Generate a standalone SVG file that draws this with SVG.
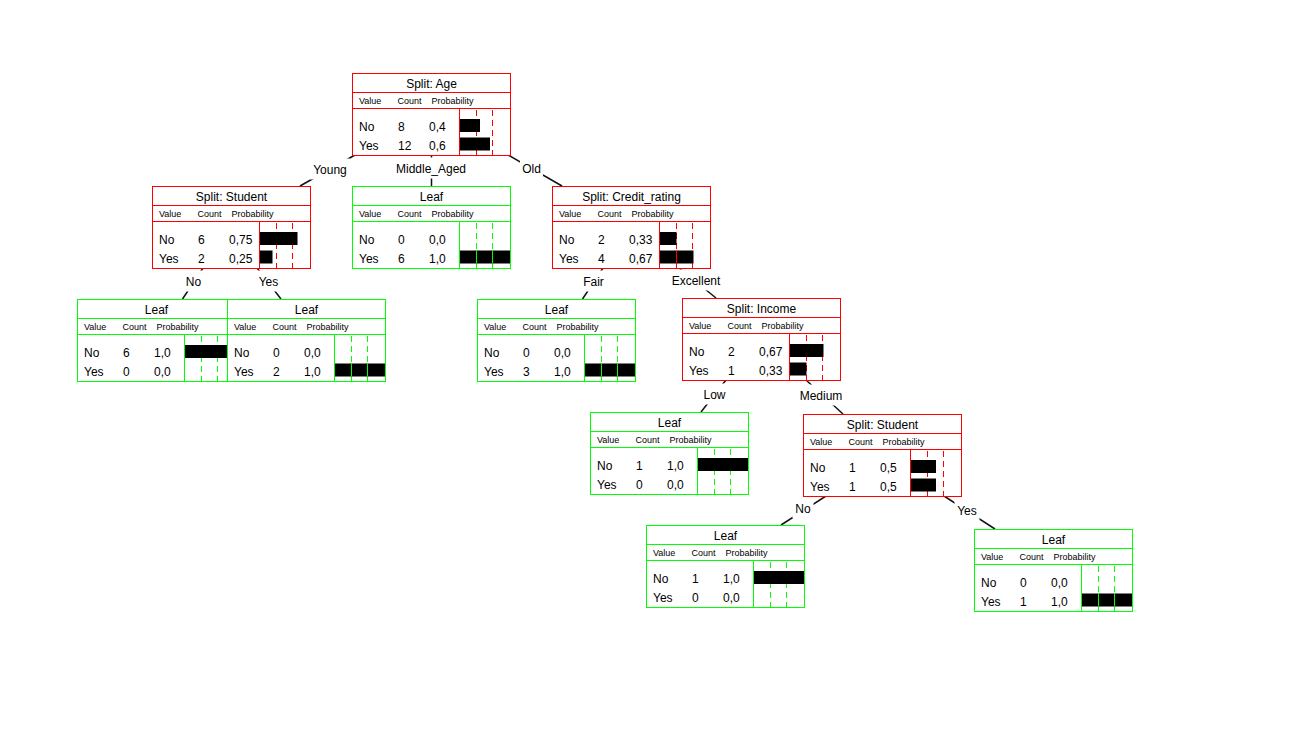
<svg xmlns="http://www.w3.org/2000/svg" width="1314" height="739" viewBox="0 0 1314 739">
  <style>
    text { font-family: "Liberation Sans", Arial, sans-serif; fill: #000; }
    .frame { fill: #fff; stroke-width: 1; }
    .rule { fill: none; stroke-width: 1; }
    .grid { fill: none; stroke-width: 1; stroke-dasharray: 6 4; }
    .mark { fill: none; stroke-width: 1; }
    .split .frame, .split .rule, .split .grid, .split .mark { stroke: #ff0000; }
    .leaf .frame, .leaf .rule, .leaf .grid, .leaf .mark { stroke: #00ff00; }
    .bar { fill: #000; }
    .title { font-size: 12px; text-anchor: middle; }
    .head { font-size: 9px; }
    .row { font-size: 12px; }
    .edge { stroke: #111; stroke-width: 1.5; fill: none; }
    .tag { fill: #fff; }
    .label { font-size: 12px; text-anchor: middle; }
  </style>

  <!-- edges between tree nodes, labels on white pads -->
  <g id="connectors">
    <line class="edge" x1="355" y1="155" x2="300" y2="186"/>
    <line class="edge" x1="431.5" y1="155" x2="431.5" y2="186"/>
    <line class="edge" x1="508" y1="155" x2="562" y2="186"/>
    <line class="edge" x1="203" y1="268" x2="182.5" y2="299"/>
    <line class="edge" x1="257" y1="268" x2="281" y2="299"/>
    <line class="edge" x1="603" y1="268" x2="582.5" y2="299"/>
    <line class="edge" x1="679" y1="268" x2="716" y2="298"/>
    <line class="edge" x1="726" y1="380" x2="701" y2="412"/>
    <line class="edge" x1="806" y1="380" x2="843" y2="414"/>
    <line class="edge" x1="826" y1="496" x2="781" y2="525"/>
    <line class="edge" x1="944" y1="496" x2="995" y2="529"/>

    <rect class="tag" x="310" y="158.5" width="40" height="21"/>
    <text class="label" x="330" y="174">Young</text>
    <rect class="tag" x="393.5" y="157.5" width="75" height="21"/>
    <text class="label" x="431" y="173">Middle_Aged</text>
    <rect class="tag" x="520" y="157.5" width="23" height="21"/>
    <text class="label" x="531.5" y="173">Old</text>
    <rect class="tag" x="183" y="270.5" width="21" height="21"/>
    <text class="label" x="193.5" y="286">No</text>
    <rect class="tag" x="256" y="270.5" width="25" height="21"/>
    <text class="label" x="268.5" y="286">Yes</text>
    <rect class="tag" x="581" y="270.5" width="25" height="21"/>
    <text class="label" x="593.5" y="286">Fair</text>
    <rect class="tag" x="669" y="269.5" width="54" height="21"/>
    <text class="label" x="696" y="285">Excellent</text>
    <rect class="tag" x="701" y="383.5" width="27" height="21"/>
    <text class="label" x="714.5" y="399">Low</text>
    <rect class="tag" x="797" y="384.5" width="48" height="21"/>
    <text class="label" x="821" y="400">Medium</text>
    <rect class="tag" x="792.5" y="497" width="21" height="21"/>
    <text class="label" x="803" y="512.5">No</text>
    <rect class="tag" x="954.5" y="499.5" width="25" height="21"/>
    <text class="label" x="967" y="515">Yes</text>
  </g>

  <!-- root split -->
  <g id="node-age" class="split" transform="translate(352,73)">
    <rect class="frame" x="0.5" y="0.5" width="158" height="82"/>
    <path class="rule" d="M0.5 19.5H158.5M0.5 35.5H158.5M107.5 35.5V82.5"/>
    <path class="grid" d="M124.5 37V82M140.5 37V82"/>
    <rect class="bar" x="108" y="46" width="20" height="13"/>
    <rect class="bar" x="108" y="64.5" width="30" height="13"/>
    <text class="title" x="79.5" y="15">Split: Age</text>
    <text class="head" y="31"><tspan x="7">Value</tspan><tspan x="45.5">Count</tspan><tspan x="79.5">Probability</tspan></text>
    <text class="row" y="57.5"><tspan x="7">No</tspan><tspan x="46">8</tspan><tspan x="77">0,4</tspan></text>
    <text class="row" y="76.5"><tspan x="7">Yes</tspan><tspan x="46">12</tspan><tspan x="77">0,6</tspan></text>
  </g>

  <!-- Young -->
  <g id="node-student-young" class="split" transform="translate(152,186)">
    <rect class="frame" x="0.5" y="0.5" width="158" height="82"/>
    <path class="rule" d="M0.5 19.5H158.5M0.5 35.5H158.5M107.5 35.5V82.5"/>
    <path class="grid" d="M124.5 37V82M140.5 37V82"/>
    <rect class="bar" x="108" y="46" width="37.5" height="13"/>
    <rect class="bar" x="108" y="64.5" width="12.5" height="13"/>
    <text class="title" x="79.5" y="15">Split: Student</text>
    <text class="head" y="31"><tspan x="7">Value</tspan><tspan x="45.5">Count</tspan><tspan x="79.5">Probability</tspan></text>
    <text class="row" y="57.5"><tspan x="7">No</tspan><tspan x="46">6</tspan><tspan x="77">0,75</tspan></text>
    <text class="row" y="76.5"><tspan x="7">Yes</tspan><tspan x="46">2</tspan><tspan x="77">0,25</tspan></text>
  </g>

  <!-- Middle_Aged -->
  <g id="node-leaf-middle" class="leaf" transform="translate(352,186)">
    <rect class="frame" x="0.5" y="0.5" width="158" height="82"/>
    <path class="rule" d="M0.5 19.5H158.5M0.5 35.5H158.5M107.5 35.5V82.5"/>
    <path class="grid" d="M124.5 37V82M140.5 37V82"/>
    <rect class="bar" x="108" y="64.5" width="50" height="13"/>
    <path class="mark" d="M124.5 64.5v13M140.5 64.5v13"/>
    <text class="title" x="79.5" y="15">Leaf</text>
    <text class="head" y="31"><tspan x="7">Value</tspan><tspan x="45.5">Count</tspan><tspan x="79.5">Probability</tspan></text>
    <text class="row" y="57.5"><tspan x="7">No</tspan><tspan x="46">0</tspan><tspan x="77">0,0</tspan></text>
    <text class="row" y="76.5"><tspan x="7">Yes</tspan><tspan x="46">6</tspan><tspan x="77">1,0</tspan></text>
  </g>

  <!-- Old -->
  <g id="node-credit" class="split" transform="translate(552,186)">
    <rect class="frame" x="0.5" y="0.5" width="158" height="82"/>
    <path class="rule" d="M0.5 19.5H158.5M0.5 35.5H158.5M107.5 35.5V82.5"/>
    <path class="grid" d="M124.5 37V82M140.5 37V82"/>
    <rect class="bar" x="108" y="46" width="16.5" height="13"/>
    <rect class="bar" x="108" y="64.5" width="33.5" height="13"/>
    <path class="mark" d="M124.5 64.5v13"/>
    <text class="title" x="79.5" y="15">Split: Credit_rating</text>
    <text class="head" y="31"><tspan x="7">Value</tspan><tspan x="45.5">Count</tspan><tspan x="79.5">Probability</tspan></text>
    <text class="row" y="57.5"><tspan x="7">No</tspan><tspan x="46">2</tspan><tspan x="77">0,33</tspan></text>
    <text class="row" y="76.5"><tspan x="7">Yes</tspan><tspan x="46">4</tspan><tspan x="77">0,67</tspan></text>
  </g>

  <!-- Young / No -->
  <g id="node-leaf-young-no" class="leaf" transform="translate(77,299)">
    <rect class="frame" x="0.5" y="0.5" width="158" height="82"/>
    <path class="rule" d="M0.5 19.5H158.5M0.5 35.5H158.5M107.5 35.5V82.5"/>
    <path class="grid" d="M124.5 37V82M140.5 37V82"/>
    <rect class="bar" x="108" y="46" width="50" height="13"/>
    <text class="title" x="79.5" y="15">Leaf</text>
    <text class="head" y="31"><tspan x="7">Value</tspan><tspan x="45.5">Count</tspan><tspan x="79.5">Probability</tspan></text>
    <text class="row" y="57.5"><tspan x="7">No</tspan><tspan x="46">6</tspan><tspan x="77">1,0</tspan></text>
    <text class="row" y="76.5"><tspan x="7">Yes</tspan><tspan x="46">0</tspan><tspan x="77">0,0</tspan></text>
  </g>

  <!-- Young / Yes -->
  <g id="node-leaf-young-yes" class="leaf" transform="translate(227,299)">
    <rect class="frame" x="0.5" y="0.5" width="158" height="82"/>
    <path class="rule" d="M0.5 19.5H158.5M0.5 35.5H158.5M107.5 35.5V82.5"/>
    <path class="grid" d="M124.5 37V82M140.5 37V82"/>
    <rect class="bar" x="108" y="64.5" width="50" height="13"/>
    <path class="mark" d="M124.5 64.5v13M140.5 64.5v13"/>
    <text class="title" x="79.5" y="15">Leaf</text>
    <text class="head" y="31"><tspan x="7">Value</tspan><tspan x="45.5">Count</tspan><tspan x="79.5">Probability</tspan></text>
    <text class="row" y="57.5"><tspan x="7">No</tspan><tspan x="46">0</tspan><tspan x="77">0,0</tspan></text>
    <text class="row" y="76.5"><tspan x="7">Yes</tspan><tspan x="46">2</tspan><tspan x="77">1,0</tspan></text>
  </g>

  <!-- Old / Fair -->
  <g id="node-leaf-fair" class="leaf" transform="translate(477,299)">
    <rect class="frame" x="0.5" y="0.5" width="158" height="82"/>
    <path class="rule" d="M0.5 19.5H158.5M0.5 35.5H158.5M107.5 35.5V82.5"/>
    <path class="grid" d="M124.5 37V82M140.5 37V82"/>
    <rect class="bar" x="108" y="64.5" width="50" height="13"/>
    <path class="mark" d="M124.5 64.5v13M140.5 64.5v13"/>
    <text class="title" x="79.5" y="15">Leaf</text>
    <text class="head" y="31"><tspan x="7">Value</tspan><tspan x="45.5">Count</tspan><tspan x="79.5">Probability</tspan></text>
    <text class="row" y="57.5"><tspan x="7">No</tspan><tspan x="46">0</tspan><tspan x="77">0,0</tspan></text>
    <text class="row" y="76.5"><tspan x="7">Yes</tspan><tspan x="46">3</tspan><tspan x="77">1,0</tspan></text>
  </g>

  <!-- Old / Excellent -->
  <g id="node-income" class="split" transform="translate(682,298)">
    <rect class="frame" x="0.5" y="0.5" width="158" height="82"/>
    <path class="rule" d="M0.5 19.5H158.5M0.5 35.5H158.5M107.5 35.5V82.5"/>
    <path class="grid" d="M124.5 37V82M140.5 37V82"/>
    <rect class="bar" x="108" y="46" width="33.5" height="13"/>
    <rect class="bar" x="108" y="64.5" width="16.5" height="13"/>
    <text class="title" x="79.5" y="15">Split: Income</text>
    <text class="head" y="31"><tspan x="7">Value</tspan><tspan x="45.5">Count</tspan><tspan x="79.5">Probability</tspan></text>
    <text class="row" y="57.5"><tspan x="7">No</tspan><tspan x="46">2</tspan><tspan x="77">0,67</tspan></text>
    <text class="row" y="76.5"><tspan x="7">Yes</tspan><tspan x="46">1</tspan><tspan x="77">0,33</tspan></text>
  </g>

  <!-- Income / Low -->
  <g id="node-leaf-low" class="leaf" transform="translate(590,412)">
    <rect class="frame" x="0.5" y="0.5" width="158" height="82"/>
    <path class="rule" d="M0.5 19.5H158.5M0.5 35.5H158.5M107.5 35.5V82.5"/>
    <path class="grid" d="M124.5 37V82M140.5 37V82"/>
    <rect class="bar" x="108" y="46" width="50" height="13"/>
    <text class="title" x="79.5" y="15">Leaf</text>
    <text class="head" y="31"><tspan x="7">Value</tspan><tspan x="45.5">Count</tspan><tspan x="79.5">Probability</tspan></text>
    <text class="row" y="57.5"><tspan x="7">No</tspan><tspan x="46">1</tspan><tspan x="77">1,0</tspan></text>
    <text class="row" y="76.5"><tspan x="7">Yes</tspan><tspan x="46">0</tspan><tspan x="77">0,0</tspan></text>
  </g>

  <!-- Income / Medium -->
  <g id="node-student-medium" class="split" transform="translate(803,414)">
    <rect class="frame" x="0.5" y="0.5" width="158" height="82"/>
    <path class="rule" d="M0.5 19.5H158.5M0.5 35.5H158.5M107.5 35.5V82.5"/>
    <path class="grid" d="M124.5 37V82M140.5 37V82"/>
    <rect class="bar" x="108" y="46" width="25" height="13"/>
    <rect class="bar" x="108" y="64.5" width="25" height="13"/>
    <text class="title" x="79.5" y="15">Split: Student</text>
    <text class="head" y="31"><tspan x="7">Value</tspan><tspan x="45.5">Count</tspan><tspan x="79.5">Probability</tspan></text>
    <text class="row" y="57.5"><tspan x="7">No</tspan><tspan x="46">1</tspan><tspan x="77">0,5</tspan></text>
    <text class="row" y="76.5"><tspan x="7">Yes</tspan><tspan x="46">1</tspan><tspan x="77">0,5</tspan></text>
  </g>

  <!-- Student / No -->
  <g id="node-leaf-medium-no" class="leaf" transform="translate(646,525)">
    <rect class="frame" x="0.5" y="0.5" width="158" height="82"/>
    <path class="rule" d="M0.5 19.5H158.5M0.5 35.5H158.5M107.5 35.5V82.5"/>
    <path class="grid" d="M124.5 37V82M140.5 37V82"/>
    <rect class="bar" x="108" y="46" width="50" height="13"/>
    <text class="title" x="79.5" y="15">Leaf</text>
    <text class="head" y="31"><tspan x="7">Value</tspan><tspan x="45.5">Count</tspan><tspan x="79.5">Probability</tspan></text>
    <text class="row" y="57.5"><tspan x="7">No</tspan><tspan x="46">1</tspan><tspan x="77">1,0</tspan></text>
    <text class="row" y="76.5"><tspan x="7">Yes</tspan><tspan x="46">0</tspan><tspan x="77">0,0</tspan></text>
  </g>

  <!-- Student / Yes -->
  <g id="node-leaf-medium-yes" class="leaf" transform="translate(974,529)">
    <rect class="frame" x="0.5" y="0.5" width="158" height="82"/>
    <path class="rule" d="M0.5 19.5H158.5M0.5 35.5H158.5M107.5 35.5V82.5"/>
    <path class="grid" d="M124.5 37V82M140.5 37V82"/>
    <rect class="bar" x="108" y="64.5" width="50" height="13"/>
    <path class="mark" d="M124.5 64.5v13M140.5 64.5v13"/>
    <text class="title" x="79.5" y="15">Leaf</text>
    <text class="head" y="31"><tspan x="7">Value</tspan><tspan x="45.5">Count</tspan><tspan x="79.5">Probability</tspan></text>
    <text class="row" y="57.5"><tspan x="7">No</tspan><tspan x="46">0</tspan><tspan x="77">0,0</tspan></text>
    <text class="row" y="76.5"><tspan x="7">Yes</tspan><tspan x="46">1</tspan><tspan x="77">1,0</tspan></text>
  </g>
</svg>
